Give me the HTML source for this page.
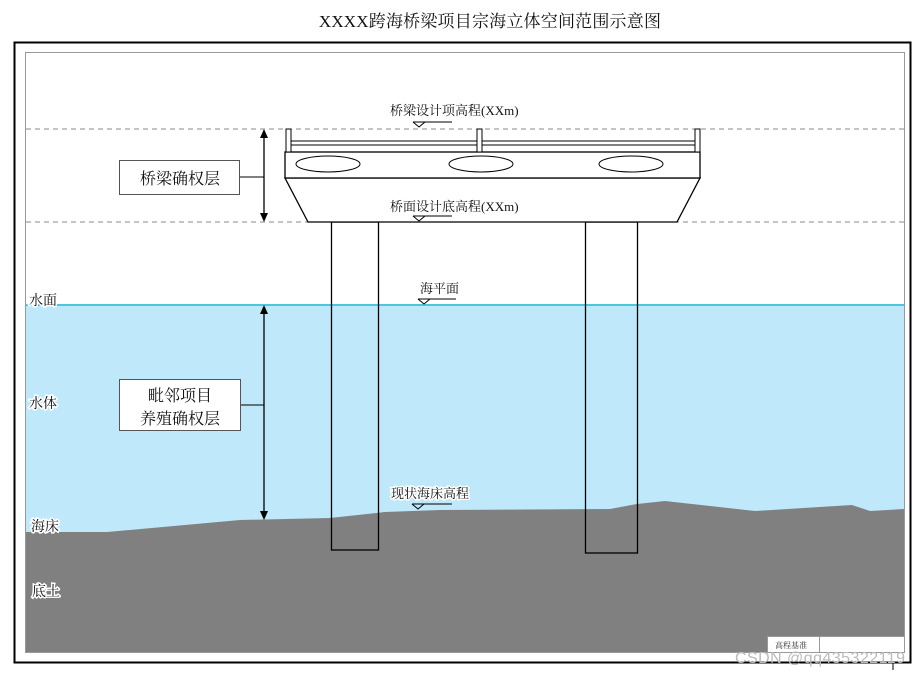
<!DOCTYPE html>
<html><head><meta charset="utf-8"><style>
html,body{margin:0;padding:0;background:#fff;}
svg{display:block;}
text{font-family:"Liberation Serif","Noto Serif CJK SC",serif;}
</style></head><body>
<svg width="921" height="675" viewBox="0 0 921 675" xmlns="http://www.w3.org/2000/svg">
<text x="490" y="27" font-size="17" text-anchor="middle" fill="#111" letter-spacing="0.2">XXXX跨海桥梁项目宗海立体空间范围示意图</text>
<rect x="14.5" y="42.5" width="896" height="620" fill="none" stroke="#000" stroke-width="2"/>
<rect x="25.5" y="52.5" width="879" height="600" fill="#fff" stroke="#999" stroke-width="1"/>
<rect x="26" y="305" width="878" height="230" fill="#bfe8fb"/>
<line x1="26" y1="305" x2="904" y2="305" stroke="#4cc7e0" stroke-width="2"/>
<polygon points="26,532 107,532 240,520 330,518 385,512 440,510 610,509 637,504 665,501 755,511 852,505 870,511 904,509 904,652 26,652" fill="#808080"/>
<line x1="26" y1="129" x2="904" y2="129" stroke="#888" stroke-dasharray="5,4"/>
<line x1="26" y1="222" x2="904" y2="222" stroke="#888" stroke-dasharray="5,4"/>
<rect x="331.5" y="222" width="47" height="328" fill="none" stroke="#000" stroke-width="1.3"/>
<rect x="585.5" y="222" width="52" height="331" fill="none" stroke="#000" stroke-width="1.3"/>
<polygon points="285,178 700,178 677,222 308,222" fill="#fff" stroke="#000" stroke-width="1.3"/>
<rect x="285" y="152" width="415" height="26" fill="#fff" stroke="#000" stroke-width="1.3"/>
<rect x="286" y="129" width="5" height="23" fill="#fff" stroke="#000"/>
<rect x="477" y="129" width="5" height="23" fill="#fff" stroke="#000"/>
<rect x="695" y="129" width="5" height="23" fill="#fff" stroke="#000"/>
<line x1="291" y1="141" x2="477" y2="141" stroke="#000"/>
<line x1="291" y1="145" x2="477" y2="145" stroke="#000"/>
<line x1="482" y1="141" x2="695" y2="141" stroke="#000"/>
<line x1="482" y1="145" x2="695" y2="145" stroke="#000"/>
<ellipse cx="328" cy="164" rx="32" ry="8" fill="#fff" stroke="#000"/>
<ellipse cx="481" cy="164" rx="32" ry="8" fill="#fff" stroke="#000"/>
<ellipse cx="631" cy="164" rx="32" ry="8" fill="#fff" stroke="#000"/>
<g stroke="#000" fill="none">
<line x1="413" y1="122" x2="452" y2="122"/><path d="M413,122 L419,127 L425,122"/>
<line x1="413" y1="216" x2="452" y2="216"/><path d="M413,216 L419,221 L425,216"/>
<line x1="418" y1="299" x2="456" y2="299"/><path d="M418,299 L424,304 L430,299"/>
<line x1="412" y1="504" x2="452" y2="504"/><path d="M412,504 L418,509 L424,504"/>
</g>
<g font-size="13" fill="#111">
<text x="390" y="115">桥梁设计项高程(XXm)</text>
<text x="390" y="211">桥面设计底高程(XXm)</text>
<text x="420" y="293">海平面</text>
<text x="391" y="498" stroke="#fff" stroke-width="3" paint-order="stroke">现状海床高程</text>
</g>
<line x1="264" y1="137" x2="264" y2="214" stroke="#000" stroke-width="1.3"/>
<path d="M260,138 L264,129 L268,138 Z"/><path d="M260,213 L264,222 L268,213 Z"/>
<line x1="239" y1="177" x2="264" y2="177" stroke="#000"/>
<rect x="119.5" y="160.5" width="120" height="34" fill="#fff" stroke="#555"/>
<text x="180" y="184" font-size="16" text-anchor="middle" fill="#111">桥梁确权层</text>
<line x1="264" y1="313" x2="264" y2="512" stroke="#000" stroke-width="1.3"/>
<path d="M260,314 L264,305 L268,314 Z"/><path d="M260,511 L264,520 L268,511 Z"/>
<line x1="240" y1="405" x2="264" y2="405" stroke="#000"/>
<rect x="119.5" y="379.5" width="121" height="51" fill="#fff" stroke="#555"/>
<text x="180" y="401" font-size="16" text-anchor="middle" fill="#111">毗邻项目</text>
<text x="180" y="424" font-size="16" text-anchor="middle" fill="#111">养殖确权层</text>
<g font-size="14" fill="#111" stroke="#fff" stroke-width="3" paint-order="stroke">
<text x="29" y="305">水面</text>
<text x="29" y="408">水体</text>
<text x="31" y="531">海床</text>
<text x="32" y="596">底土</text>
</g>
<rect x="767.5" y="636.5" width="52" height="16" fill="#fff" stroke="#999"/>
<rect x="819.5" y="636.5" width="85" height="16" fill="#fff" stroke="#999"/>
<text x="775" y="648" font-size="8" fill="#333">高程基准</text>
<line x1="893" y1="663" x2="893" y2="670" stroke="#000"/>
<text x="735" y="663" font-size="16" fill="#bbb" style="font-family:'Liberation Sans',sans-serif" textLength="170">CSDN @qq435322119</text>
</svg>
</body></html>
